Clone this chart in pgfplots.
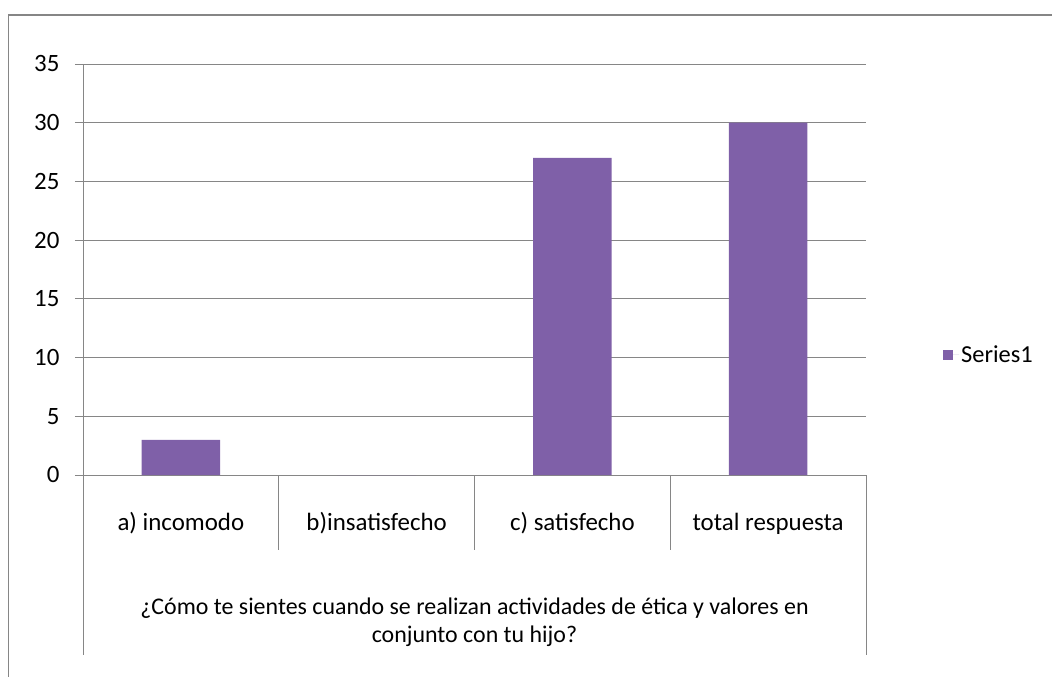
\documentclass[border=0pt]{standalone}
\usepackage{pgfplots}
\pgfplotsset{compat=1.18}
\usepackage{fontspec}
\setmainfont{Carlito}
\definecolor{barc}{RGB}{127,96,168}
\definecolor{bard}{RGB}{98,72,134}
\definecolor{gridc}{RGB}{134,134,134}
\begin{document}
\begin{tikzpicture}
\useasboundingbox (0bp,0bp) rectangle (1052bp,677bp);
\draw[gridc, line width=1.5bp] (8.5bp,0bp) -- (8.5bp,662bp) -- (1052bp,662bp);
\begin{axis}[at={(83bp,202bp)}, anchor=south west, scale only axis,
  width=783bp, height=411bp,
  xmin=-0.5, xmax=3.5, ymin=0, ymax=35,
  ytick={0,5,...,35},
  xtick={0,1,2,3},
  xticklabels={a) incomodo, b)insatisfecho, c) satisfecho, total respuesta},
  xtick style={draw=none},
  xticklabel style={anchor=base, yshift=-47bp},
  axis x line=bottom, axis y line=left,
  axis line style={-, gridc, line width=0.8bp},
  ytick style={gridc, line width=0.8bp},
  tick align=outside, major tick length=8bp,
  ymajorgrids, grid style={gridc, line width=0.8bp},
  font=\fontsize{25}{28}\selectfont,
  yticklabel style={font=\fontsize{25}{28}\selectfont, xshift=-12bp},
  /pgf/number format/assume math mode=true,
  clip=false,
  legend style={at={(1,0.292)}, anchor=west, xshift=74bp, draw=none,
    font=\fontsize{24.5}{28}\selectfont},
  legend image code/.code={\fill[barc] (0bp,-5bp) rectangle (10bp,5bp); \path[draw=none] (10bp,0bp) -- (16bp,0bp);},
]
\addplot[ybar, bar width=0.4, bar shift=0, fill=barc, draw=none]
  coordinates {(0,3) (1,0) (2,27) (3,30)};
\addlegendentry{Series1}
\draw[gridc, line width=0.8bp] (axis cs:0.5,0) -- ([yshift=-75bp]axis cs:0.5,0);
\draw[gridc, line width=0.8bp] (axis cs:1.5,0) -- ([yshift=-75bp]axis cs:1.5,0);
\draw[gridc, line width=0.8bp] (axis cs:2.5,0) -- ([yshift=-75bp]axis cs:2.5,0);
\draw[gridc, line width=0.8bp] (axis cs:-0.5,0) -- ([yshift=-180bp]axis cs:-0.5,0);
\draw[gridc, line width=0.8bp] (axis cs:3.5,0) -- ([yshift=-180bp]axis cs:3.5,0);
\node[align=center, font=\fontsize{24}{28}\selectfont] at ([yshift=-147bp]axis cs:1.5,0)
  {¿Cómo te sientes cuando se realizan actividades de ética y valores en\\conjunto con tu hijo?};
\end{axis}
\end{tikzpicture}
\end{document}
